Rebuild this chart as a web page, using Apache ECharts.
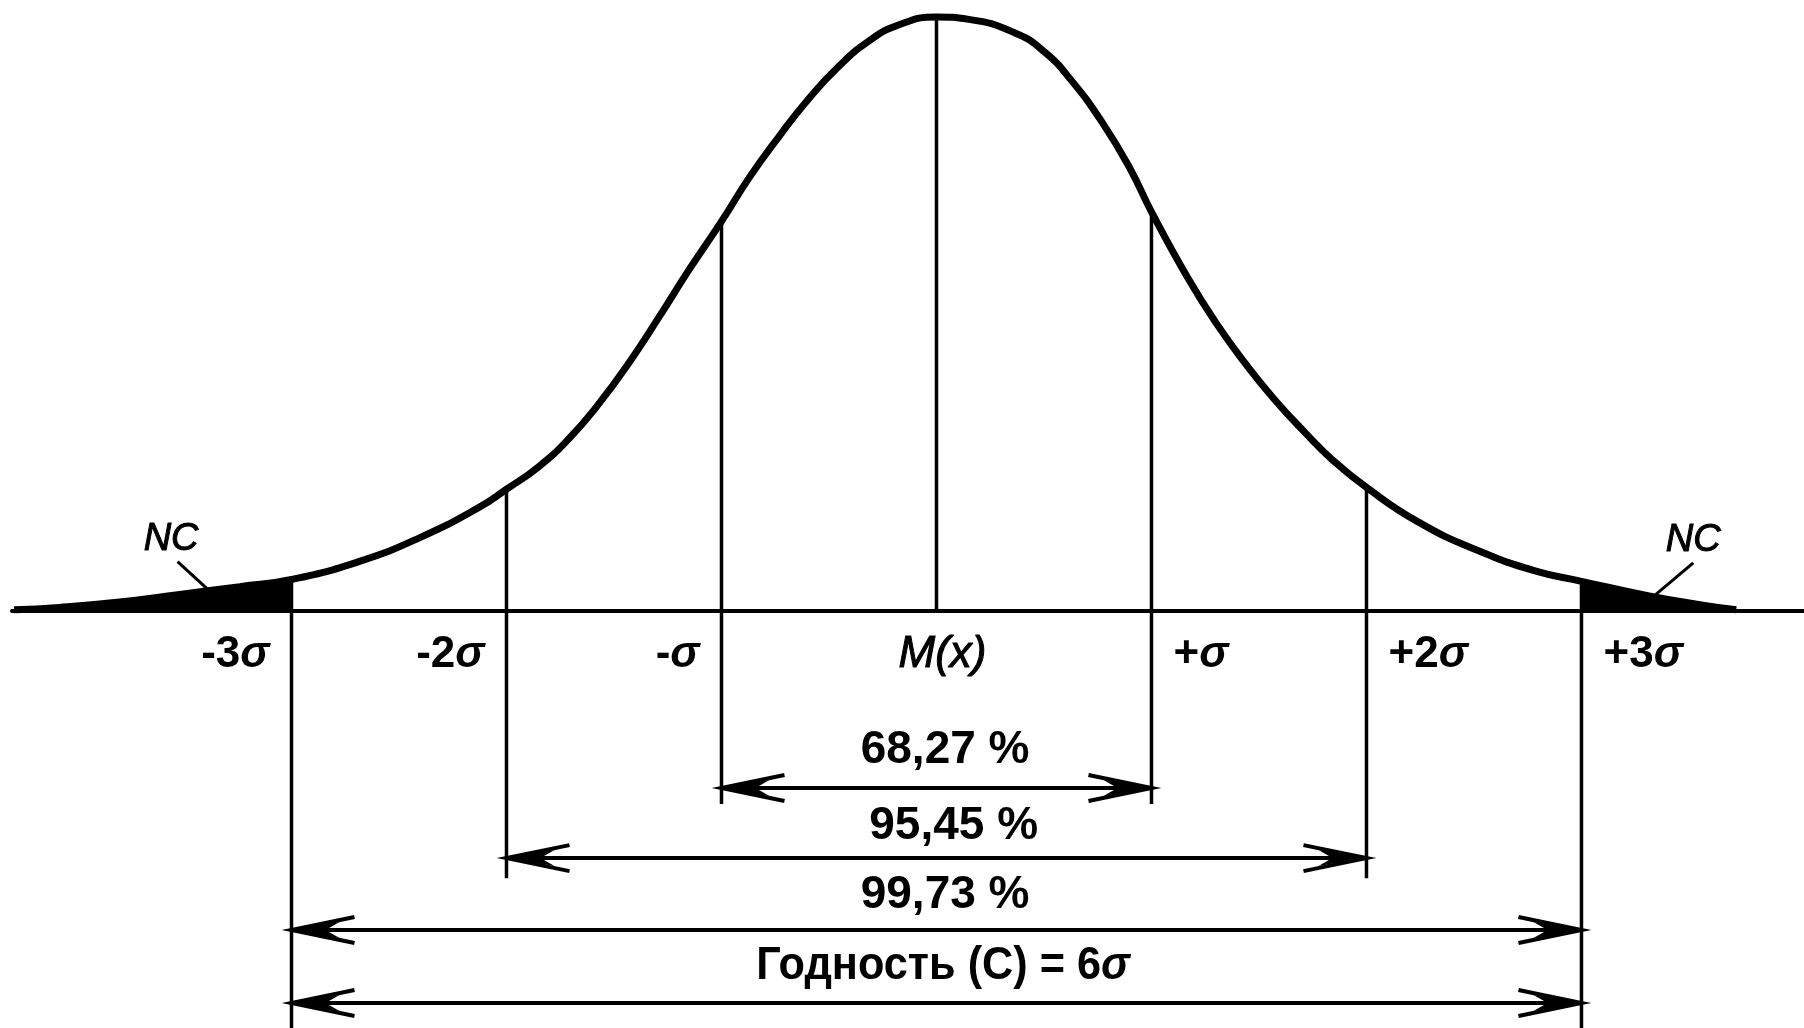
<!DOCTYPE html>
<html>
<head>
<meta charset="utf-8">
<title>Нормальное распределение</title>
<script src="https://cdn.jsdelivr.net/npm/echarts@6/dist/echarts.min.js"></script>
<style>
html, body { margin: 0; padding: 0; background: #fff; }
#chart { width: 1804px; height: 1028px; }
</style>
</head>
<body>
<div id="chart"></div>
<script>
// кривая: x в сигмах от M(x), y - доля высоты пика
var curveX = [-4.29, -4.08, -3.80, -3.52, -3.24, -3.00, -2.68, -2.40, -2.13, -2.00, -1.85, -1.71, -1.57, -1.43, -1.29, -1.15, -1.00, -0.87, -0.73, -0.60, -0.46, -0.32, -0.18, 0,
    0.15, 0.36, 0.50, 0.63, 0.77, 0.90, 1.00, 1.17, 1.30, 1.44, 1.57, 1.71, 1.84, 2.00, 2.24, 2.51, 2.78, 3.00, 3.32, 3.58, 3.72];
var curveY = [0.002, 0.006, 0.015, 0.028, 0.041, 0.053, 0.084, 0.124, 0.174, 0.205, 0.243, 0.290, 0.349, 0.418, 0.495, 0.575, 0.656, 0.730, 0.800, 0.860, 0.915, 0.958, 0.986, 1.0,
    0.996, 0.974, 0.942, 0.892, 0.823, 0.745, 0.672, 0.560, 0.485, 0.415, 0.357, 0.302, 0.255, 0.208, 0.150, 0.103, 0.068, 0.050, 0.025, 0.009, 0.002];

var sigmaX = [-3, -2, -1, 0, 1, 2, 3];
var sigmaLabels = ['-3σ', '-2σ', '-σ', 'M(x)', '+σ', '+2σ', '+3σ'];

// интервалы со стрелками
var spanFrom = [-1, -2, -3, -3];
var spanTo = [1, 2, 3, 3];
var spanLabels = ['68,27 %', '95,45 %', '99,73 %', 'Годность (С) = 6σ'];

var ncLabels = ['NC', 'NC'];

// раскладка (в единицах осей)
var lineBottom = { 0: 0, 1: -0.325, 2: -0.45, 3: -0.702 };
var labelLevel = -0.074;
var spanTextLevel = [-0.234, -0.362, -0.478, -0.598];
var spanArrowLevel = [-0.298, -0.416, -0.537, -0.660];
var spanTextShift = [0.04, 0.08, 0.04, 0.03];
var ncText = [[-3.56, 0.120], [3.52, 0.118]];
var ncLeader = [[[-3.53, 0.083], [-3.37, 0.030]], [[3.52, 0.081], [3.32, 0.020]]];

var font = 'Liberation Sans, Arial, sans-serif';

function curveAt(x) {
    var i = curveX.indexOf(x);
    return i >= 0 ? curveY[i] : 0;
}

var curveData = curveX.map(function (x, i) { return [x, curveY[i]]; });
var leftTail = curveData.filter(function (d) { return d[0] <= -3; });
var rightTail = curveData.filter(function (d) { return d[0] >= 3; });

function richLabel(s) {
    if (s === 'M(x)') return '{m|M(x)}';
    var k = s.indexOf('σ');
    return '{n|' + s.slice(0, k) + '}{s|σ}';
}

var richStyles = {
    n: { fontFamily: font, fontWeight: 'bold', fontSize: 44, fill: '#000' },
    s: { fontFamily: font, fontWeight: 'bold', fontStyle: 'italic', fontSize: 44, fill: '#000' },
    m: { fontFamily: font, fontStyle: 'italic', fontSize: 44, fill: '#000', stroke: '#000', lineWidth: 1 }
};

function arrowHead(tx, ty, dir) {
    var d = -dir;
    return [
        { type: 'polygon', shape: { points: [[tx, ty], [tx + d * 48, ty - 8], [tx + d * 34, ty], [tx + d * 48, ty + 8]] }, style: { fill: '#000' } },
        { type: 'polyline', shape: { points: [[tx + d * 63, ty - 13], [tx, ty], [tx + d * 63, ty + 13]] }, style: { stroke: '#000', lineWidth: 4, fill: null } }
    ];
}

var chart = echarts.init(document.getElementById('chart'));
chart.setOption({
    animation: false,
    backgroundColor: '#fff',
    grid: { left: 12, right: 0, top: 17, bottom: 0, containLabel: false, outerBoundsMode: 'none' },
    xAxis: {
        type: 'value', min: -4.3, max: 4.035,
        axisLine: { show: true, onZero: true, lineStyle: { color: '#000', width: 4 } },
        axisTick: { show: false }, axisLabel: { show: false }, splitLine: { show: false }
    },
    yAxis: {
        type: 'value', min: -0.702, max: 1, show: false,
        splitLine: { show: false }
    },
    series: [
        {
            type: 'line', data: leftTail, smooth: 0.5, symbol: 'none', clip: false,
            lineStyle: { width: 0 }, areaStyle: { color: '#000', opacity: 1 }, z: 3
        },
        {
            type: 'line', data: rightTail, smooth: 0.5, symbol: 'none', clip: false,
            lineStyle: { width: 0 }, areaStyle: { color: '#000', opacity: 1 }, z: 3
        },
        {
            type: 'line', data: curveData, smooth: 0.5, symbol: 'none', clip: false,
            lineStyle: { color: '#000', width: 7 }, z: 4
        },
        {
            // вертикальные линии сигм
            type: 'custom', z: 2,
            data: sigmaX.map(function (s) { return [s, curveAt(s), lineBottom[Math.abs(s)]]; }),
            renderItem: function (params, api) {
                var a = api.coord([api.value(0), api.value(1)]);
                var b = api.coord([api.value(0), api.value(2)]);
                return { type: 'line', shape: { x1: a[0], y1: a[1], x2: b[0], y2: b[1] }, style: { stroke: '#000', lineWidth: 3.5 } };
            }
        },
        {
            // подписи сигм
            type: 'custom', z: 5,
            data: sigmaX.map(function (s, i) { return [s, labelLevel, i]; }),
            renderItem: function (params, api) {
                var s = api.value(0);
                var p = api.coord([s, api.value(1)]);
                var align = s < 0 ? 'right' : (s > 0 ? 'left' : 'center');
                var dx = s < 0 ? -22 : (s > 0 ? 22 : 6);
                return {
                    type: 'text', x: p[0] + dx, y: p[1],
                    style: { text: richLabel(sigmaLabels[api.value(2)]), rich: richStyles, align: align, verticalAlign: 'middle' }
                };
            }
        },
        {
            // стрелки интервалов
            type: 'custom', z: 5,
            data: spanFrom.map(function (f, i) { return [f, spanArrowLevel[i], spanTo[i]]; }),
            renderItem: function (params, api) {
                var a = api.coord([api.value(0), api.value(1)]);
                var b = api.coord([api.value(2), api.value(1)]);
                var children = [
                    { type: 'line', shape: { x1: a[0], y1: a[1], x2: b[0], y2: b[1] }, style: { stroke: '#000', lineWidth: 4 } }
                ];
                children = children.concat(arrowHead(a[0], a[1], -1), arrowHead(b[0], b[1], 1));
                return { type: 'group', children: children };
            }
        },
        {
            // подписи интервалов
            type: 'custom', z: 5,
            data: spanFrom.map(function (f, i) { return [(f + spanTo[i]) / 2 + spanTextShift[i], spanTextLevel[i], i]; }),
            renderItem: function (params, api) {
                var i = api.value(2);
                var p = api.coord([api.value(0), api.value(1)]);
                var text = spanLabels[i].replace('σ', '{s|σ}');
                return {
                    type: 'text', x: p[0], y: p[1], scaleX: i === 3 ? 0.94 : 1,
                    style: {
                        text: text, align: 'center', verticalAlign: 'middle',
                        fontFamily: font, fontWeight: 'bold', fontSize: 46, fill: '#000',
                        rich: { s: { fontFamily: font, fontWeight: 'bold', fontStyle: 'italic', fontSize: 46, fill: '#000' } }
                    }
                };
            }
        },
        {
            // NC и выноски
            type: 'custom', z: 5,
            data: ncLabels.map(function (t, i) { return [ncText[i][0], ncText[i][1], i]; }),
            renderItem: function (params, api) {
                var i = api.value(2);
                var p = api.coord([api.value(0), api.value(1)]);
                var a = api.coord(ncLeader[i][0]);
                var b = api.coord(ncLeader[i][1]);
                return {
                    type: 'group', children: [
                        {
                            type: 'text', x: p[0], y: p[1],
                            style: { text: ncLabels[i], align: 'center', verticalAlign: 'middle', fontFamily: font, fontStyle: 'italic', fontSize: 38, fill: '#000', stroke: '#000', lineWidth: 1 }
                        },
                        { type: 'line', shape: { x1: a[0], y1: a[1], x2: b[0], y2: b[1] }, style: { stroke: '#000', lineWidth: 3 } }
                    ]
                };
            }
        }
    ]
});
</script>
</body>
</html>
